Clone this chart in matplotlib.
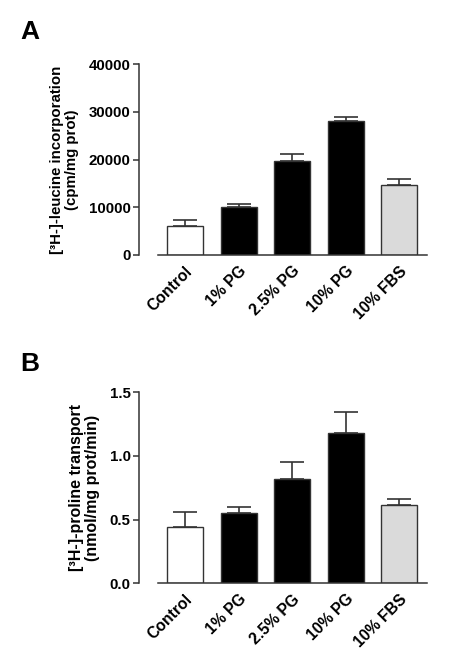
import matplotlib
matplotlib.use("Agg")
import matplotlib.pyplot as plt
import numpy as np

plt.rcParams['font.family'] = ['Liberation Sans', 'DejaVu Sans']
plt.rcParams['font.weight'] = 'bold'

categories = ["Control", "1% PG", "2.5% PG", "10% PG", "10% FBS"]
leucine_mean = [6150, 10050, 19700, 28000, 14600]
leucine_err = [1250, 700, 1400, 850, 1400]
proline_mean = [0.44, 0.555, 0.822, 1.183, 0.615]
proline_err = [0.123, 0.047, 0.131, 0.160, 0.047]
colors = ["white", "black", "black", "black", "#dadada"]

W, H = 472, 655
fig = plt.figure(figsize=(W / 100, H / 100), dpi=100)

def make_panel(top_px, bot_px, means, errs, ylim, yticks, yticklabels, ylabel, label_fs, letter, letter_y):
    left_px, right_px = 139, 427
    ax = fig.add_axes([left_px / W, 1 - bot_px / H, (right_px - left_px) / W, (bot_px - top_px) / H])
    x = np.arange(len(categories))
    ax.bar(x, means, width=0.67, color=colors, edgecolor='#333333', linewidth=1.0, zorder=2)
    ax.errorbar(x, means, yerr=[np.zeros(len(errs)), errs], fmt='none', ecolor='#333333',
                elinewidth=1.2, capsize=8.5, capthick=1.2, zorder=1)
    ax.set_xlim(-0.858, 4.515)
    ax.set_ylim(*ylim)
    for s in ['top', 'right']:
        ax.spines[s].set_visible(False)
    for s in ['left', 'bottom']:
        ax.spines[s].set_color('#333333')
        ax.spines[s].set_linewidth(1.1)
    ax.spines['bottom'].set_bounds(-0.504, 4.515)
    ax.set_yticks(yticks)
    ax.set_yticklabels(yticklabels, fontsize=10.8, fontweight='bold')
    ax.tick_params(axis='y', length=4, width=1.1, color='#333333', pad=2)
    ax.set_xticks(x)
    ax.set_xticklabels(categories, rotation=45, ha='right', rotation_mode='anchor',
                       fontsize=11.3, fontweight='bold')
    ax.tick_params(axis='x', length=0, pad=6)
    ax.set_ylabel(ylabel, fontsize=label_fs, fontweight='bold', linespacing=1.1, labelpad=7)
    fig.text(20 / W, 1 - letter_y / H, letter, fontsize=19, fontweight='bold', va='center', ha='left')
    return ax

make_panel(64, 255, leucine_mean, leucine_err, (0, 40000),
           [0, 10000, 20000, 30000, 40000], ["0", "10000", "20000", "30000", "40000"],
           "[³H-]-leucine incorporation\n(cpm/mg prot)", 10.8, "A", 32)
make_panel(392.3, 583.3, proline_mean, proline_err, (0, 1.5),
           [0, 0.5, 1.0, 1.5], ["0.0", "0.5", "1.0", "1.5"],
           "[³H-]-proline transport\n(nmol/mg prot/min)", 11.5, "B", 364)

fig.savefig("out.png", dpi=100)
